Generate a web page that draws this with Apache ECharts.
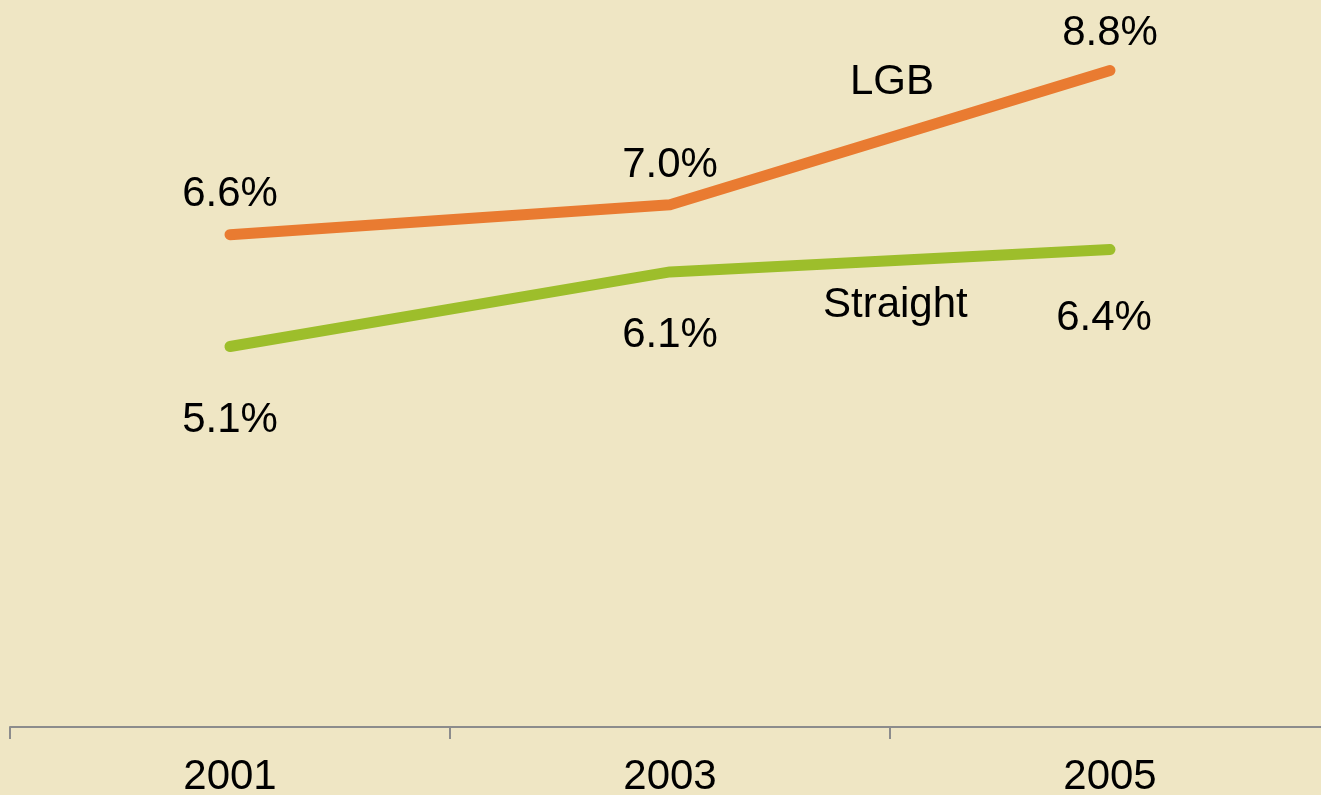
<!DOCTYPE html>
<html>
<head>
<meta charset="utf-8">
<script src="https://cdn.jsdelivr.net/npm/echarts@6/dist/echarts.min.js"></script>
<style>
html,body{margin:0;padding:0;background:#EFE6C4;}
#chart{width:1321px;height:795px;}
</style>
</head>
<body>
<div id="chart"></div>
<script>
const years = ['2001', '2003', '2005'];
const lgb = [6.6, 7.0, 8.8];
const straight = [5.1, 6.1, 6.4];
const seriesNames = ['LGB', 'Straight'];

// label placement (style, not data)
const lgbLabelPos = [{position:'top', distance:19}, {position:'top', distance:18}, {position:'top', distance:16}];
const strLabelPos = [{position:'bottom', distance:53}, {position:'bottom', distance:42}, {position:'bottom', distance:48, offset:[-6,0]}];

const font = 'Liberation Sans, Arial, sans-serif';
function mk(vals, pos) {
  return vals.map((v, i) => ({value: v, label: Object.assign({}, pos[i])}));
}

const chart = echarts.init(document.getElementById('chart'));
chart.setOption({
  backgroundColor: '#EFE6C4',
  animation: false,
  grid: {left: 10, right: -9, top: -19, bottom: 68, containLabel: false, outerBoundsMode: 'none'},
  xAxis: {
    type: 'category',
    data: years,
    boundaryGap: true,
    axisLine: {show: true, lineStyle: {color: '#8C8C8C', width: 2}},
    axisTick: {show: true, length: 12, lineStyle: {color: '#8C8C8C', width: 2}},
    axisLabel: {color: '#000', fontSize: 42, fontFamily: font, margin: 29}
  },
  yAxis: {
    type: 'value', min: 0, max: 10, show: false, splitLine: {show: false}
  },
  series: [
    {
      name: seriesNames[0], type: 'line', data: mk(lgb, lgbLabelPos),
      symbol: 'circle', symbolSize: 0,
      lineStyle: {color: '#E97B31', width: 11, cap: 'round', join: 'round'},
      itemStyle: {color: '#E97B31'},
      label: {show: true, color: '#000', fontSize: 42, fontFamily: font, formatter: p => p.value.toFixed(1) + '%'}
    },
    {
      name: seriesNames[1], type: 'line', data: mk(straight, strLabelPos),
      symbol: 'circle', symbolSize: 0,
      lineStyle: {color: '#9DBE2B', width: 11, cap: 'round', join: 'round'},
      itemStyle: {color: '#9DBE2B'},
      label: {show: true, color: '#000', fontSize: 42, fontFamily: font, formatter: p => p.value.toFixed(1) + '%'}
    }
  ],
  graphic: [
    {type: 'text', left: 850, top: 61, style: {text: seriesNames[0], fontSize: 42, fontFamily: font, fill: '#000'}},
    {type: 'text', left: 823, top: 284, style: {text: seriesNames[1], fontSize: 42, fontFamily: font, fill: '#000'}}
  ]
});
</script>
</body>
</html>
